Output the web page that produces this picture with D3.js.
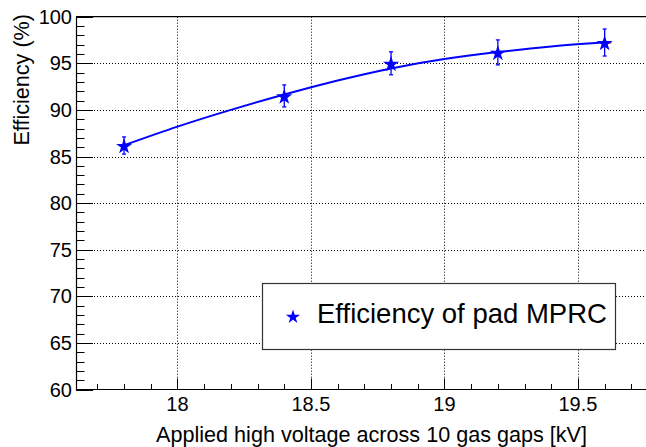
<!DOCTYPE html>
<html>
<head>
<meta charset="utf-8">
<script src="https://cdn.jsdelivr.net/npm/d3@7"></script>
<style>
  body { margin: 0; background: #fff; }
  svg { display: block; font-family: "Liberation Sans", Arial, Helvetica, sans-serif; }
</style>
</head>
<body>
<svg id="chart" width="646" height="447"></svg>
<script>
// measured points (high voltage in kV, efficiency in %)
let voltage = [17.8, 18.4, 18.8, 19.2, 19.6];
let efficiency = [86.18, 91.5, 95.0, 96.17, 97.23];
let effError = [0.92, 1.18, 1.23, 1.34, 1.45];

// fit curve
let fitX = [17.8, 18.0, 18.2, 18.4, 18.6, 18.8, 19.0, 19.2, 19.4, 19.6];
let fitY = [86.2, 88.2, 90.0, 91.65, 93.15, 94.45, 95.45, 96.2, 96.8, 97.25];

let xMajorTicks = [18, 18.5, 19, 19.5];
let yMajorTicks = [60, 65, 70, 75, 80, 85, 90, 95, 100];

let svg = d3.select('#chart');

let plotLeft = 76, plotTop = 16.7, plotBottom = 389.5, plotRight = 652.7;

let x = d3.scaleLinear().domain([17.62, 19.78]).range([plotLeft, plotRight]);
let y = d3.scaleLinear().domain([60, 100]).range([plotBottom, plotTop]);

// grid
let grid = svg.append('g')
    .attr('stroke', '#000')
    .attr('stroke-width', 1)
    .attr('stroke-dasharray', '1,2');

grid.selectAll('.gx')
    .data(xMajorTicks)
    .join('line')
    .attr('x1', d => Math.round(x(d)) + 0.5)
    .attr('x2', d => Math.round(x(d)) + 0.5)
    .attr('y1', plotTop)
    .attr('y2', plotBottom);

grid.selectAll('.gy')
    .data(yMajorTicks.filter(d => d > 60 && d < 100))
    .join('line')
    .attr('x1', plotLeft)
    .attr('x2', 646)
    .attr('y1', d => Math.round(y(d)) + 0.5)
    .attr('y2', d => Math.round(y(d)) + 0.5);

// ticks
let ticks = svg.append('g').attr('stroke', '#000').attr('stroke-width', 1);

let yMinor = d3.range(60, 101, 1);
ticks.selectAll('.ty')
    .data(yMinor)
    .join('line')
    .attr('x1', plotLeft)
    .attr('x2', d => plotLeft + (d % 5 == 0 ? 17 : 8.5))
    .attr('y1', d => Math.round(y(d)) + 0.5)
    .attr('y2', d => Math.round(y(d)) + 0.5);

let xMinor = d3.range(177, 198, 1).map(d => d / 10);
ticks.selectAll('.tx')
    .data(xMinor)
    .join('line')
    .attr('x1', d => Math.round(x(d)) + 0.5)
    .attr('x2', d => Math.round(x(d)) + 0.5)
    .attr('y1', plotBottom)
    .attr('y2', d => plotBottom - (Math.abs(d * 2 - Math.round(d * 2)) < 1e-6 ? 11 : 5.5));

// frame
svg.append('path')
    .attr('d', 'M' + (plotLeft + 0.5) + ',' + plotTop + 'V' + plotBottom + 'H646')
    .attr('fill', 'none')
    .attr('stroke', '#000')
    .attr('stroke-width', 1.2);
svg.append('line')
    .attr('x1', plotLeft).attr('x2', 646)
    .attr('y1', plotTop).attr('y2', plotTop)
    .attr('stroke', '#000')
    .attr('stroke-width', 1.2);

// tick labels
svg.selectAll('.ly')
    .data(yMajorTicks)
    .join('text')
    .attr('x', 72)
    .attr('y', d => y(d) + 7)
    .attr('text-anchor', 'end')
    .attr('font-size', '20px')
    .text(d => d);

svg.selectAll('.lx')
    .data(xMajorTicks)
    .join('text')
    .attr('x', d => x(d))
    .attr('y', 411)
    .attr('text-anchor', 'middle')
    .attr('font-size', '20px')
    .text(d => d);

// axis titles
svg.append('text')
    .attr('x', 587)
    .attr('y', 442)
    .attr('text-anchor', 'end')
    .attr('font-size', '21.6px')
    .text('Applied high voltage across 10 gas gaps [kV]');

svg.append('text')
    .attr('transform', 'translate(29,14) rotate(-90)')
    .attr('text-anchor', 'end')
    .attr('font-size', '21.6px')
    .text('Efficiency (%)');

// fit curve
let line = d3.line()
    .x((d, i) => x(fitX[i]))
    .y(d => y(d))
    .curve(d3.curveNatural);

svg.append('path')
    .datum(fitY)
    .attr('d', line)
    .attr('fill', 'none')
    .attr('stroke', '#0000ff')
    .attr('stroke-width', 2);

// red stub of the default fit at the end
svg.append('line')
    .attr('x1', x(19.6)).attr('x2', x(19.625))
    .attr('y1', y(97.22)).attr('y2', y(97.22))
    .attr('stroke', '#ff0000')
    .attr('stroke-width', 2);

// error bars
let errs = svg.append('g').attr('stroke', '#0000ff').attr('stroke-width', 1.3);
errs.selectAll('.eb')
    .data(voltage)
    .join('line')
    .attr('x1', d => x(d))
    .attr('x2', d => x(d))
    .attr('y1', (d, i) => y(efficiency[i] + effError[i]))
    .attr('y2', (d, i) => y(efficiency[i] - effError[i]));
errs.selectAll('.ct')
    .data(voltage)
    .join('line')
    .attr('x1', d => x(d) - 2)
    .attr('x2', d => x(d) + 2)
    .attr('y1', (d, i) => y(efficiency[i] + effError[i]))
    .attr('y2', (d, i) => y(efficiency[i] + effError[i]));
errs.selectAll('.cb')
    .data(voltage)
    .join('line')
    .attr('x1', d => x(d) - 2)
    .attr('x2', d => x(d) + 2)
    .attr('y1', (d, i) => y(efficiency[i] - effError[i]))
    .attr('y2', (d, i) => y(efficiency[i] - effError[i]));

// star markers
let star = d3.symbol().type(d3.symbolStar).size(80);
svg.selectAll('.pt')
    .data(voltage)
    .join('path')
    .attr('d', star)
    .attr('transform', (d, i) => 'translate(' + x(d) + ',' + (y(efficiency[i]) + 1) + ')')
    .attr('fill', '#0000ff');

// legend
let legend = svg.append('g');
legend.append('rect')
    .attr('x', 262.5)
    .attr('y', 283.5)
    .attr('width', 353)
    .attr('height', 66)
    .attr('fill', '#fff')
    .attr('stroke', '#333')
    .attr('stroke-width', 1.2);
legend.append('path')
    .attr('d', d3.symbol().type(d3.symbolStar).size(62))
    .attr('transform', 'translate(293,317)')
    .attr('fill', '#0000ff');
legend.append('text')
    .attr('x', 317)
    .attr('y', 323)
    .attr('font-size', '27.5px')
    .text('Efficiency of pad MPRC');
</script>
</body>
</html>
